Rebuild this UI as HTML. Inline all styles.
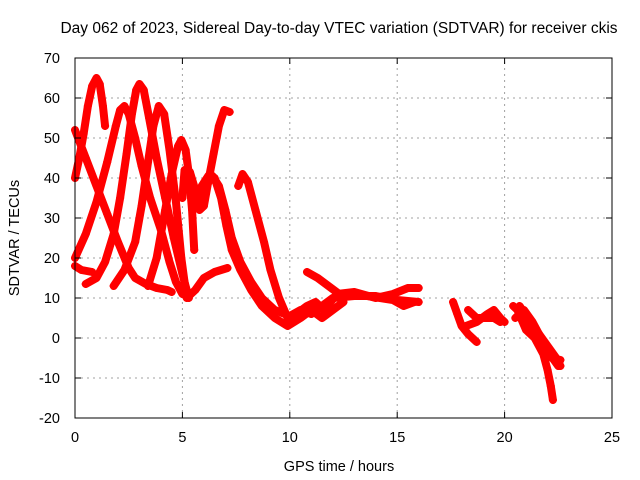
<!DOCTYPE html>
<html><head><meta charset="utf-8"><style>
body{margin:0;background:#fff;}
svg{display:block;font-family:"Liberation Sans",sans-serif;}
</style></head><body>
<svg id="chart" width="640" height="480">
<rect x="0" y="0" width="640" height="480" fill="#fff"/>
<text x="339" y="33" text-anchor="middle" font-size="15.5">Day 062 of 2023, Sidereal Day-to-day VTEC variation (SDTVAR) for receiver ckis</text>
<g id="grid"></g>
<g id="marks"></g>
<g id="axes"></g>
<text x="339" y="471" text-anchor="middle" font-size="14.5">GPS time / hours</text>
<text transform="translate(19,238) rotate(-90)" text-anchor="middle" font-size="14.5">SDTVAR / TECUs</text>
</svg>
<script>
const xTicks=[0,5,10,15,20,25];
const yTicks=[-20,-10,0,10,20,30,40,50,60,70];
const trackA=[[0,40],[0.2,45],[0.4,51],[0.6,58],[0.8,63],[1.0,65],[1.15,63.5],[1.3,58],[1.4,53]];
const trackB=[[0,52],[0.5,45],[1,38],[1.5,31],[2,24],[2.5,17.5],[2.8,15],[3.3,13.5],[3.8,12.5],[4.3,12],[4.5,11.5]];
const trackC=[[0,18],[0.3,17],[0.8,16.5]];
const trackE=[[0,20],[0.5,26],[1,34],[1.5,44],[1.9,53],[2.1,57],[2.3,58],[2.5,56],[2.8,50],[3.1,43],[3.5,35],[4,27],[4.4,19],[4.7,14],[5.0,11],[5.3,10.5],[5.6,12],[6,15],[6.5,16.5],[7.1,17.5]];
const trackF=[[0.5,13.5],[1,15],[1.4,19],[1.8,26],[2.1,35],[2.4,46],[2.65,56],[2.85,62],[3.0,63.5],[3.2,62],[3.45,55],[3.8,45],[4.2,35],[4.6,25],[5,16],[5.3,10]];
const trackG=[[1.8,13],[2.3,17],[2.8,24],[3.1,33],[3.4,44],[3.65,53],[3.9,58],[4.15,56],[4.4,47],[4.7,34],[4.95,20],[5.2,10]];
const trackH=[[3.4,13],[3.8,20],[4.2,32],[4.5,41],[4.8,48],[4.95,49.5],[5.15,47],[5.3,41],[5.45,32],[5.55,22]];
const trackI=[[5.0,35],[5.1,42],[5.35,41.5],[5.6,37],[5.8,32],[6.0,33],[6.2,39],[6.45,46],[6.7,53],[6.95,57],[7.2,56.5]];
const trackJ=[[5.6,33],[5.9,38],[6.2,40.5],[6.5,40],[6.8,35],[7.05,28],[7.3,22],[7.7,17],[8.2,12],[8.7,8],[9.3,5],[9.9,3],[10.5,5],[11,7],[11.5,5],[12,7],[12.5,9]];
const trackK=[[6.1,38],[6.4,40.5],[6.7,38],[7.0,32],[7.3,25],[7.7,19],[8.2,14],[8.7,10],[9.3,7],[10,5.5],[10.5,7],[11,6],[11.5,8],[12,10],[13,10.5],[14,10.5],[15,9.5],[16,9]];
const trackL=[[7.6,38],[7.8,41],[8.05,39],[8.4,32],[8.8,24],[9.1,17],[9.5,10],[9.9,5],[10.3,6],[10.8,8],[11.2,9],[11.6,7],[12.2,11],[13,11.5],[14,10],[14.8,11],[15.5,12.5],[16,12.5]];
const trackM=[[10.8,16.5],[11.3,15],[11.8,13],[12.3,11],[13,11],[13.6,10.5],[14.2,10],[14.8,9.5],[15.3,8],[15.8,9]];
const trackN=[[17.6,9],[17.8,6],[18,3],[18.3,1],[18.7,-1]];
const trackO=[[18.3,7],[18.7,5],[19,5],[19.5,5],[19.8,4]];
const trackP=[[18.2,3],[18.7,4],[19.2,6],[19.5,7],[19.8,5],[20,4]];
const trackQ=[[20.4,8],[20.8,6],[21.2,3],[21.6,1],[22,-2],[22.4,-5],[22.6,-7]];
const trackR=[[20.5,5],[20.9,7],[21.3,4],[21.7,0],[22.1,-4],[22.5,-7]];
const trackS=[[20.6,7],[21,2],[21.4,0],[21.8,-4],[22,-8],[22.15,-12],[22.25,-15.5]];
const trackT=[[20.7,8],[21.2,4],[21.7,-2],[22.2,-5],[22.6,-5.5]];
const tracks=[trackA,trackB,trackC,trackE,trackF,trackG,trackH,trackI,trackJ,trackK,trackL,trackM,trackN,trackO,trackP,trackQ,trackR,trackS,trackT];
const X0=75,X1=612,Y0=418,Y1=58;
function sx(v){return X0+(v-0)/(25-0)*(X1-X0);}
function sy(v){return Y0-(v+20)/(70+20)*(Y0-Y1);}
const NS="http://www.w3.org/2000/svg";
const grid=document.getElementById('grid'),marks=document.getElementById('marks'),axes=document.getElementById('axes');
function mk(tag,attrs,parent){const e=document.createElementNS(NS,tag);for(const k in attrs)e.setAttribute(k,attrs[k]);parent.appendChild(e);return e;}
xTicks.forEach(t=>{
  if(t>0&&t<25){const g=mk('line',{x1:sx(t),x2:sx(t),y1:Y0,y2:Y1,stroke:'#a0a0a0','stroke-dasharray':'2,4'},grid);
  
  }
  const tl=mk('text',{x:sx(t),y:Y0+24,'text-anchor':'middle','font-size':'14.5'},axes);tl.textContent=t;
  
  
  mk('line',{x1:sx(t),x2:sx(t),y1:Y0,y2:Y0-6,stroke:'#000'},axes);
  mk('line',{x1:sx(t),x2:sx(t),y1:Y1,y2:Y1+6,stroke:'#000'},axes);
});
yTicks.forEach(t=>{
  if(t>-20&&t<70){const g=mk('line',{x1:X0,x2:X1,y1:sy(t),y2:sy(t),stroke:'#a0a0a0','stroke-dasharray':'2,4'},grid);
  
  }
  const tl=mk('text',{x:X0-15,y:sy(t)+5,'text-anchor':'end','font-size':'14.5'},axes);tl.textContent=t;
  
  
  mk('line',{x1:X0,x2:X0+6,y1:sy(t),y2:sy(t),stroke:'#000'},axes);
  mk('line',{x1:X1,x2:X1-6,y1:sy(t),y2:sy(t),stroke:'#000'},axes);
});
const frame=mk('rect',{x:X0,y:Y1,width:X1-X0,height:Y0-Y1,fill:'none',stroke:'#000'},axes);


tracks.forEach((tr,i)=>{
  const pl=mk('polyline',{points:tr.map(p=>sx(p[0])+','+sy(p[1])).join(' '),fill:'none',stroke:'#ff0000','stroke-width':8,'stroke-linejoin':'round','stroke-linecap':'round'},marks);
  
  
  tr.forEach(p=>{
    const m=mk('path',{d:`M${sx(p[0])-4},${sy(p[1])}h8M${sx(p[0])},${sy(p[1])-4}v8`,stroke:'#ff0000','stroke-width':1.5},marks);
    
    
  });
});
</script>
</body></html>
